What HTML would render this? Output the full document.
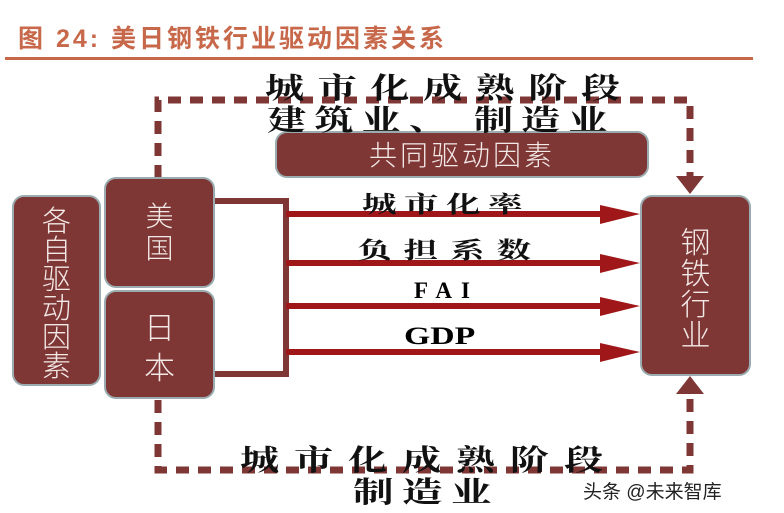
<!DOCTYPE html>
<html><head><meta charset="utf-8"><style>
body{margin:0;width:784px;height:513px;background:#fff;overflow:hidden;position:relative;font-family:"Liberation Sans","Noto Sans CJK SC",sans-serif}
.t{position:absolute;white-space:nowrap}
.box{position:absolute;background:#7f3736;border:2px solid #9aacb0;border-radius:12px;box-sizing:border-box;color:#f2e8e6;text-align:center;font-family:"Noto Sans CJK SC",sans-serif;font-weight:300}
.k{font-family:"Noto Serif CJK SC","Noto Sans CJK SC",serif;font-weight:700;color:#111;transform-origin:0 0}
</style></head><body>
<div class="t" style="left:18px;top:19px;font-size:25px;font-weight:bold;color:#c8684a;letter-spacing:3px;font-family:'Liberation Sans','Noto Sans CJK SC',sans-serif">图 24:&nbsp;美日钢铁行业驱动因素关系</div>
<div style="position:absolute;left:5px;top:57px;width:748px;height:3px;background:#c8684a"></div>
<svg width="784" height="513" style="position:absolute;left:0;top:0">
<g stroke="#7f3736" stroke-width="7" fill="none" stroke-dasharray="13 9">
<path d="M158 178 V100 H690 V178"/>
<path d="M158 400 V470 H690 V392"/>
</g>
<polygon points="676,176 704,176 690,194" fill="#7f3736"/>
<polygon points="676,394 704,394 690,376" fill="#7f3736"/>
<path d="M213 201 H286 V374 H213" stroke="#7f3736" stroke-width="6" fill="none"/>
<g fill="#a0171a">
<rect x="286" y="211" width="320" height="6"/><polygon points="600,205 640,214 600,224"/>
<rect x="286" y="260" width="320" height="6"/><polygon points="600,254 640,263 600,273"/>
<rect x="286" y="303" width="320" height="6"/><polygon points="600,297 640,306 600,316"/>
<rect x="286" y="349" width="320" height="6"/><polygon points="600,343 640,352 600,362"/>
</g>
</svg>
<div class="box" style="left:12px;top:195px;width:89px;height:191px;font-size:29px;line-height:29px;padding-top:8px">各<br>自<br>驱<br>动<br>因<br>素</div>
<div class="box" style="left:104px;top:177px;width:111px;height:111px;font-size:28px;line-height:32px;padding-top:20px">美<br>国</div>
<div class="box" style="left:104px;top:290px;width:111px;height:109px;font-size:31px;line-height:40px;padding-top:14px">日<br>本</div>
<div class="box" style="left:275px;top:131px;width:374px;height:47px;font-size:28px;line-height:43px;letter-spacing:3px">共同驱动因素</div>
<div class="box" style="left:640px;top:195px;width:111px;height:181px;font-size:30px;line-height:31px;padding-top:28px">钢<br>铁<br>行<br>业</div>
<div class="t k" style="left:265px;top:66px;font-size:29px;letter-spacing:10px;transform:scaleX(1.35)">城市化成熟阶段</div>
<div class="t k" style="left:267px;top:98px;font-size:29px;letter-spacing:6px;transform:scaleX(1.35)">建筑业、 制造业</div>
<div class="t k" style="left:362px;top:186px;font-size:23px;letter-spacing:5px;transform:scaleX(1.5)">城市化率</div>
<div class="t k" style="left:357px;top:232px;font-size:23px;letter-spacing:8px;transform:scaleX(1.5)">负担系数</div>
<div class="t" style="left:414px;top:278px;font-size:23px;font-weight:bold;font-family:'Liberation Serif',serif;letter-spacing:9px">FAI</div>
<div class="t" style="left:404px;top:323px;font-size:25px;font-weight:bold;font-family:'Liberation Serif',serif;transform:scaleX(1.35);transform-origin:0 0">GDP</div>
<div class="t k" style="left:240px;top:438px;font-size:29px;letter-spacing:11px;transform:scaleX(1.35)">城市化成熟阶段</div>
<div class="t k" style="left:353px;top:470px;font-size:29px;letter-spacing:6px;transform:scaleX(1.4)">制造业</div>
<div class="t" style="left:583px;top:477px;font-size:19px;color:#222">头条 @未来智库</div>
</body></html>
